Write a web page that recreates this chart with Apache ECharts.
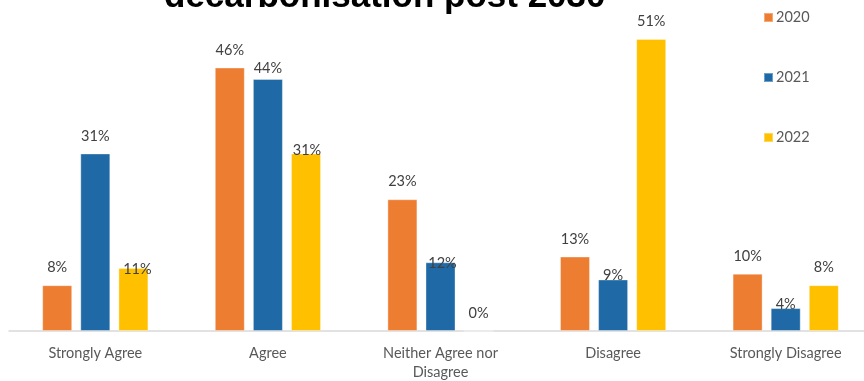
<!DOCTYPE html>
<html>
<head>
<meta charset="utf-8">
<script src="https://cdn.jsdelivr.net/npm/echarts@6/dist/echarts.min.js"></script>
<style>
  html, body { margin: 0; padding: 0; background: #fff; }
  #chart { width: 864px; height: 381px; }
</style>
</head>
<body>
<div id="chart"></div>
<script>
// Survey answers, share of respondents per year (%)
const categories = ['Strongly Agree', 'Agree', 'Neither Agree nor\nDisagree', 'Disagree', 'Strongly Disagree'];
const years = ['2020', '2021', '2022'];
const values2020 = [8, 46, 23, 13, 10];
const values2021 = [31, 44, 12, 9, 4];
const values2022 = [11, 31, 0, 51, 8];

const colors = ['#ED7D31', '#1F6AA6', '#FFC000'];

// Hand-placed label nudges [dx, dy] per series, where labels sit lower than default
const labelNudges = [
  [null, null, null, null, null],
  [null, [0, 7], [2, 19], [0, 13], [0, 14]],
  [[4, 19], [1, 14], null, null, null]
];

const seriesValues = [values2020, values2021, values2022];

const chart = echarts.init(document.getElementById('chart'), null, { renderer: 'canvas' });

const series = years.map((yr, si) => ({
  name: yr,
  type: 'bar',
  barWidth: 30,
  barGap: '27%',
  itemStyle: { color: colors[si], borderColor: 'rgba(255,255,255,0.35)', borderWidth: 1 },
  label: {
    show: true,
    position: 'top',
    distance: 10,
    formatter: '{c}%',
    color: '#404040',
    fontFamily: 'Lato',
    fontSize: 14.5
  },
  data: seriesValues[si].map((v, ci) => {
    const n = labelNudges[si][ci];
    return n ? { value: v, label: { offset: n } } : v;
  })
}));

chart.setOption({
  animation: false,
  backgroundColor: '#fff',
  title: {
    text: 'decarbonisation post 2030',
    left: 159,
    top: -25,
    textStyle: { fontFamily: 'Liberation Sans', fontWeight: 'bold', fontSize: 35, color: '#000' }
  },
  legend: {
    orient: 'vertical',
    left: 758,
    top: 5,
    itemWidth: 9,
    itemHeight: 9,
    itemGap: 45,
    icon: 'rect',
    textStyle: { fontFamily: 'Lato', fontSize: 14.5, color: '#595959', padding: [0, 0, 0, -2] },
    data: years
  },
  grid: { left: 9, right: -8, top: 16, bottom: 50, containLabel: false, outerBoundsMode: 'none' },
  xAxis: {
    type: 'category',
    data: categories,
    axisLine: { lineStyle: { color: '#D9D9D9', width: 1.5 } },
    axisTick: { show: false },
    axisLabel: { fontFamily: 'Lato', fontSize: 14.5, color: '#595959', margin: 13, lineHeight: 19 }
  },
  yAxis: {
    type: 'value',
    min: 0,
    max: 55,
    show: false,
    splitLine: { show: false }
  },
  series: series
});
</script>
</body>
</html>
